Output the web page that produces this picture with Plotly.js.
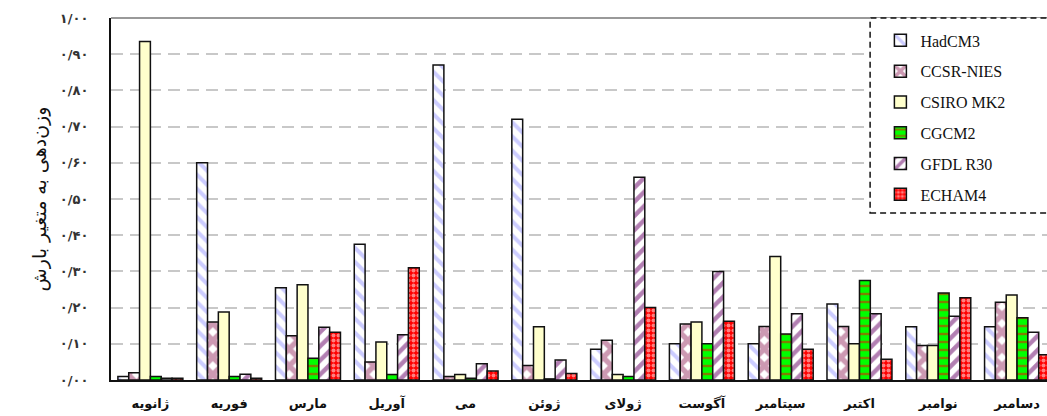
<!DOCTYPE html>
<html>
<head>
<meta charset="utf-8">
<script src="https://cdn.plot.ly/plotly-3.0.1.min.js"></script>
<style>html,body{margin:0;padding:0;background:#fff;overflow:hidden}</style>
</head>
<body>
<div id="chart" style="width:1047px;height:416px"></div>
<script>
const months = ["ژانویه","فوریه","مارس","آوریل","می","ژوئن","ژولای","آگوست","سپتامبر","اکتبر","نوامبر","دسامبر"];
const seriesNames = ["HadCM3","CCSR-NIES","CSIRO MK2","CGCM2","GFDL R30","ECHAM4"];
const hadcm3   = [0.010,0.600,0.255,0.375,0.870,0.720,0.085,0.100,0.100,0.210,0.147,0.147];
const ccsrnies = [0.020,0.160,0.122,0.050,0.010,0.040,0.110,0.155,0.148,0.148,0.095,0.215];
const csiromk2 = [0.935,0.188,0.263,0.105,0.015,0.147,0.015,0.160,0.341,0.100,0.095,0.235];
const cgcm2    = [0.010,0.010,0.060,0.015,0.005,0.003,0.010,0.100,0.127,0.275,0.240,0.172];
const gfdlr30  = [0.005,0.016,0.146,0.125,0.045,0.055,0.560,0.300,0.183,0.183,0.176,0.132];
const echam4   = [0.005,0.005,0.132,0.310,0.025,0.018,0.200,0.162,0.085,0.057,0.227,0.070];
const yTickVals = [0,0.1,0.2,0.3,0.4,0.5,0.6,0.7,0.8,0.9,1.0];
const yTickText = ["۰/۰۰","۰/۱۰","۰/۲۰","۰/۳۰","۰/۴۰","۰/۵۰","۰/۶۰","۰/۷۰","۰/۸۰","۰/۹۰","۱/۰۰"];

const values = [hadcm3, ccsrnies, csiromk2, cgcm2, gfdlr30, echam4];
const styles = [
  {bg:"#ffffff", fg:"#9999ff", shape:"\\", size:10, sol:0.4},
  {bg:"#ffffff", fg:"#993366", shape:"x", size:12, sol:0.7},
  {bg:"#ffffcc", fg:"#ffffcc", shape:"", size:8, sol:0.3},
  {bg:"#00ff00", fg:"#ff0000", shape:"-", size:8, sol:0.3},
  {bg:"#ffffff", fg:"#660066", shape:"/", size:10, sol:0.45},
  {bg:"#ff0000", fg:"#ffffff", shape:".", size:5, sol:0.5}
];
const xIdx = months.map((m,i)=>i);

const traces = values.map((v,k)=>({
  type:"bar",
  name: seriesNames[k],
  legendgroup: "g"+k,
  x: xIdx,
  y: v,
  marker:{
    color: styles[k].bg,
    line:{color:"#111", width:1.5},
    pattern: styles[k].shape ? {shape:styles[k].shape, fgcolor:styles[k].fg, bgcolor:styles[k].bg, fillmode:"overlay", size:styles[k].size, solidity:styles[k].sol} : undefined
  },
  hoverinfo:"y+name"
}));

const layout = {
  width:1047, height:416,
  margin:{l:111, r:0, t:18, b:36},
  paper_bgcolor:"#fff", plot_bgcolor:"#fff",
  barmode:"group", bargap:0.175, bargroupgap:0,
  font:{family:"DejaVu Sans", color:"#111"},
  xaxis:{
    range:[-0.5, 11.38],
    tickvals: xIdx, ticktext: months,
    showgrid:false, zeroline:false,
    showline:true, linecolor:"#111", linewidth:2,
    ticks:"", ticklabelstandoff:10,
    tickfont:{family:"DejaVu Sans", size:13, color:"#111", weight:"bold"}
  },
  yaxis:{
    range:[0,1],
    tickvals: yTickVals, ticktext: yTickText,
    showgrid:true, gridcolor:"#c8c8c8", gridwidth:2, griddash:"12px,7px",
    zeroline:false,
    showline:true, linecolor:"#111", linewidth:2,
    ticks:"", ticklabelstandoff:18,
    tickfont:{family:"DejaVu Sans", size:13, color:"#333", weight:"bold"},
    title:{text:"وزن‌دهی به متغیر بارش", font:{family:"DejaVu Sans", size:19, color:"#111"}, standoff:8}
  },
  shapes:[
    {type:"line", xref:"paper", yref:"paper", x0:0, x1:1, y0:1, y1:1, line:{color:"#999", width:2}, layer:"above"},
    {type:"rect", xref:"paper", yref:"paper", x0:0.811, x1:1.02, y0:0.461, y1:1.0, fillcolor:"#fff", line:{color:"#111", width:1.5, dash:"6px,4px"}, layer:"above"}
  ],
  showlegend:true,
  legend:{
    x:0.822, xanchor:"left", y:0.985, yanchor:"top",
    bgcolor:"rgba(0,0,0,0)", borderwidth:0,
    font:{family:"Liberation Serif", size:16, color:"#111"},
    tracegroupgap:7, itemwidth:30, traceorder:"grouped"
  }
};

Plotly.newPlot("chart", traces, layout, {displayModeBar:false, staticPlot:true});
</script>
</body>
</html>
